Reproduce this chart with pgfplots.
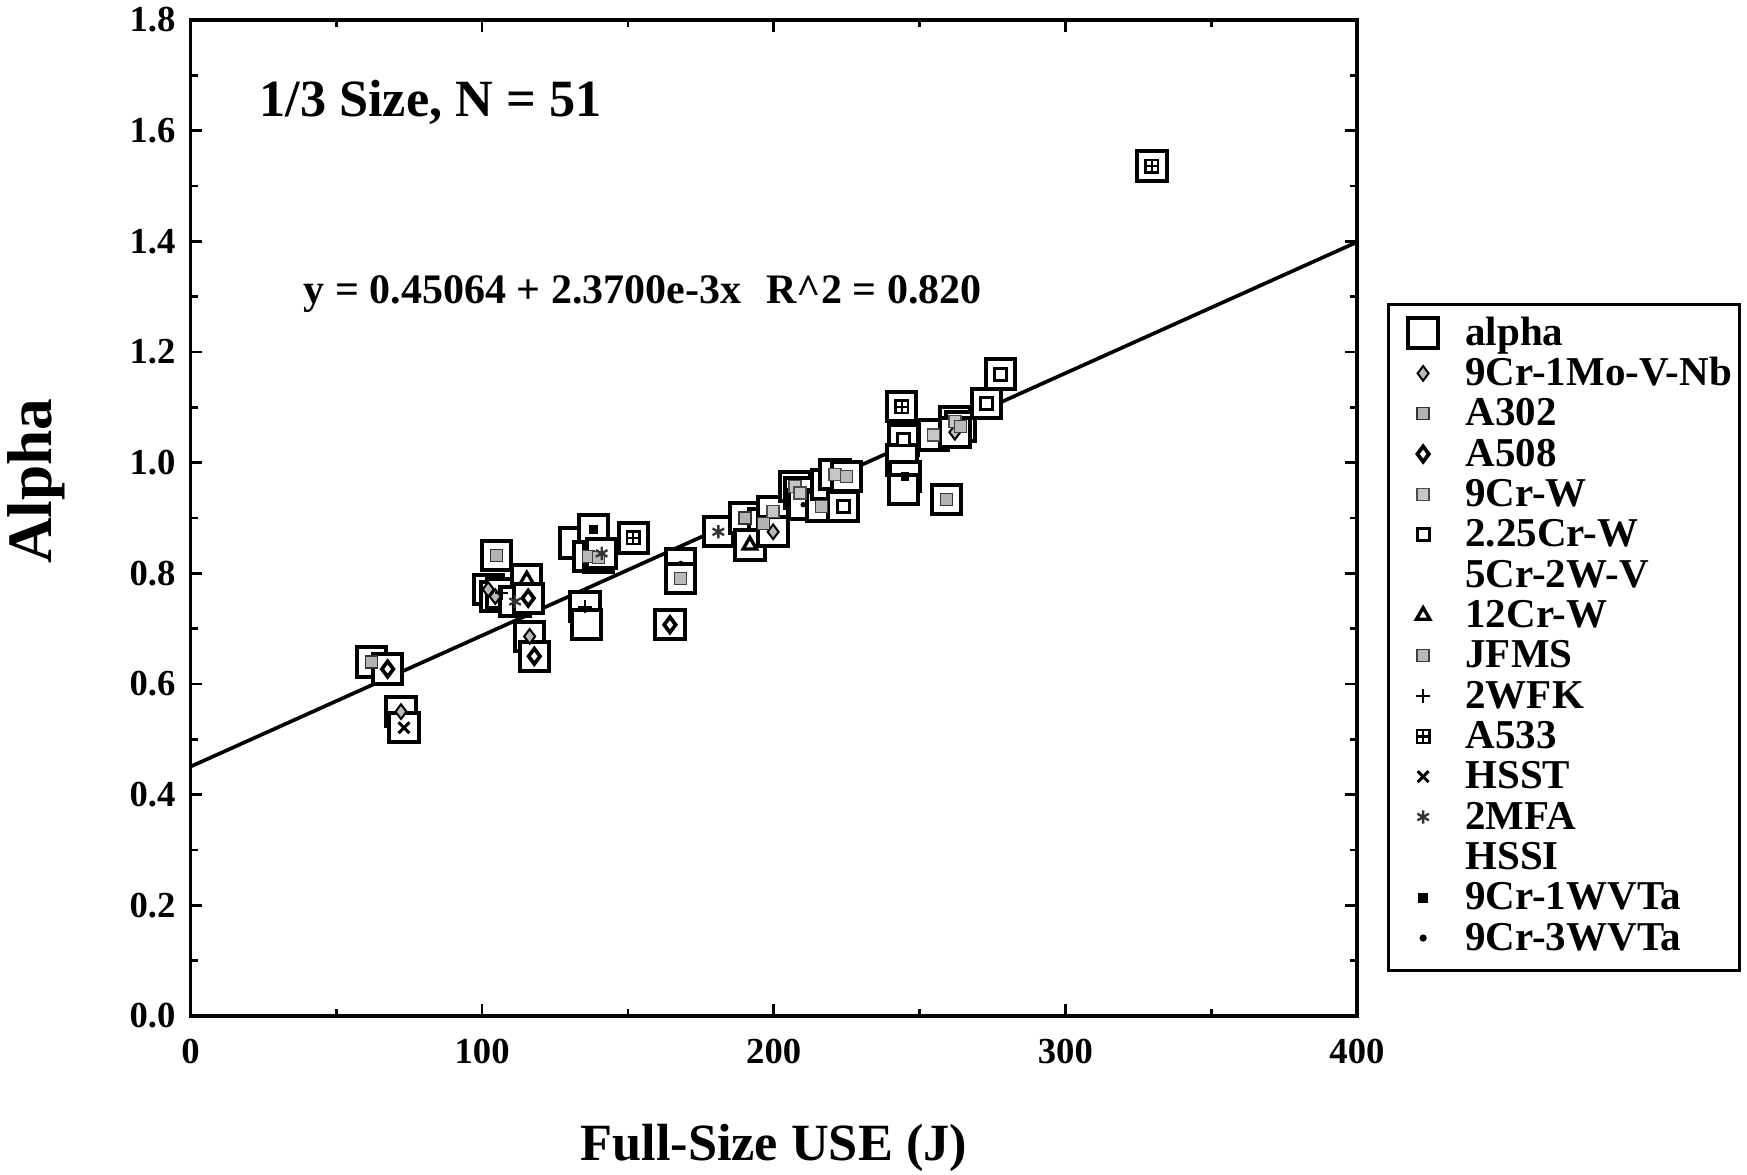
\documentclass[border=0pt]{standalone}
\usepackage{pgfplots}
\pgfplotsset{compat=1.18}
\usepackage{fontspec}
\setmainfont{Liberation Serif}
\pgfdeclareplotmark{boxplus}{%
  \pgfpathrectangle{\pgfpoint{-\pgfplotmarksize}{-\pgfplotmarksize}}{\pgfpoint{2\pgfplotmarksize}{2\pgfplotmarksize}}%
  \pgfpathmoveto{\pgfpoint{-\pgfplotmarksize}{0pt}}\pgfpathlineto{\pgfpoint{\pgfplotmarksize}{0pt}}%
  \pgfpathmoveto{\pgfpoint{0pt}{-\pgfplotmarksize}}\pgfpathlineto{\pgfpoint{0pt}{\pgfplotmarksize}}%
  \pgfusepathqstroke}
\begin{document}
\begin{tikzpicture}
\path[use as bounding box] (-57.15pt,-47.7pt) rectangle (466.95pt,304.8pt);
\begin{axis}[
  scale only axis, width=349.95pt, height=298.8pt,
  at={(0,0)}, anchor=south west,
  xmin=0, xmax=400, ymin=0, ymax=1.8,
  xtick={0,100,200,300,400}, ytick={0,0.2,...,1.8},
  minor x tick num=1, minor y tick num=1,
  tick align=inside,
  major tick length=3.6pt, minor tick length=2.2pt,
  tick style={black, line width=0.8pt},
  axis line style={line width=1.1pt},
  /pgf/number format/assume math mode=true,
  y tick label style={/pgf/number format/fixed, /pgf/number format/fixed zerofill, /pgf/number format/precision=1, xshift=-1pt},
  ticklabel style={font=\fontsize{11}{11}\selectfont\bfseries},
  x tick label style={yshift=-3.5pt},
  xlabel={Full-Size USE (J)},
  ylabel={Alpha},
  xlabel style={font=\fontsize{15.7}{16}\selectfont\bfseries, at={(axis description cs:0.5,0)}, anchor=center, yshift=-39.5pt},
  ylabel style={font=\fontsize{19}{19}\selectfont\bfseries, at={(axis description cs:0,0.537)}, anchor=center, yshift=46.4pt},
  clip=false,
  legend cell align=left,
  legend style={at={(rel axis cs:1.0257,0.716)}, anchor=north west,
    font=\fontsize{12.3}{12.3}\selectfont\bfseries,
    draw=black, line width=0.9pt,
    inner xsep=2pt, inner ysep=3.4pt,
    row sep=0.5pt, column sep=4pt,
    nodes={inner sep=0.3pt, text height=8.5pt, text depth=2.5pt, line width=0.8pt}},
  legend image code/.code={\path[draw=none] (0pt,0.6pt) (16.8pt,0.6pt);
    \draw[mark repeat=2,mark phase=2,#1] plot coordinates {(0pt,0.6pt) (8.4pt,0.6pt) (16.8pt,0.6pt)};},
  nosym/.style={only marks, mark=*, mark size=0pt, mark options={draw=none, fill=none}},
]
% alpha: big open squares at every point
\addplot[only marks, mark=square*, mark size=4.4pt, mark options={fill=white, draw=black, line width=1.2pt}] coordinates {
(62.1,0.640) (67.6,0.627) (72.2,0.550) (73.2,0.521)
(105,0.832) (102.1,0.771) (104.5,0.758) (106.7,0.764) (115.3,0.788) (111.3,0.749) (115.8,0.755)
(116.3,0.686) (117.9,0.650)
(131.8,0.855) (138.1,0.879) (136.5,0.830) (140,0.828) (141,0.836) (135.3,0.740) (135.9,0.707)
(151.8,0.864) (164.4,0.707) (168.1,0.818) (168.1,0.791)
(181,0.875) (190.1,0.900) (196.5,0.890) (191.8,0.851) (199.8,0.912) (199.8,0.875)
(207.3,0.957) (209,0.945) (210.1,0.924) (216.4,0.921) (218,0.960) (221,0.978) (225,0.975) (223.8,0.921)
(243.9,1.101) (244.4,1.041) (244,1.005) (245,0.975) (244.4,0.951)
(254.7,1.050) (259.3,0.933) (262.1,1.074) (264,1.065) (262.1,1.055)
(273,1.107) (277.8,1.160) (329.7,1.536)
};
\addlegendentry{alpha}
% 9Cr-1Mo-V-Nb
\addplot[only marks, mark=diamond*, mark size=2.2pt, mark options={fill=gray!55, draw=black, line width=0.6pt}] coordinates {
(72.2,0.550) (102.1,0.771) (104.5,0.758) (116.3,0.686) (199.8,0.875) (262.1,1.055)
};
\addlegendentry{9Cr-1Mo-V-Nb}
% A302
\addplot[only marks, mark=square*, mark size=1.8pt, mark options={fill=gray!60, draw=gray!40!black, line width=0.4pt}] coordinates {
(62.1,0.640) (105,0.832) (190.1,0.900) (196.5,0.890) (259.3,0.933)
};
\addlegendentry{A302}
% A508
\addplot[only marks, mark=diamond*, mark size=2.3pt, mark options={fill=white, draw=black, line width=1.1pt}] coordinates {
(67.6,0.627) (115.8,0.755) (117.9,0.650) (164.4,0.707)
};
\addlegendentry{A508}
% 9Cr-W
\addplot[only marks, mark=square*, mark size=1.8pt, mark options={fill=gray!45, draw=gray!60!black, line width=0.4pt}] coordinates {
(199.8,0.912) (207.3,0.957) (209,0.945) (221,0.978) (262.1,1.074) (254.7,1.050)
};
\addlegendentry{9Cr-W}
% 2.25Cr-W
\addplot[only marks, mark=square*, mark size=1.8pt, mark options={fill=white, draw=black, line width=0.9pt}] coordinates {
(223.8,0.921) (244.4,1.041) (273,1.107) (277.8,1.160)
};
\addlegendentry{2.25Cr-W}
% 5Cr-2W-V (no symbol)
\addplot[nosym] coordinates {
(135.9,0.707) (244.4,0.951)
};
\addlegendentry{5Cr-2W-V}
% 12Cr-W
\addplot[only marks, mark=triangle, mark size=2.3pt, mark options={draw=black, line width=1pt}] coordinates {
(115.3,0.788) (191.8,0.851)
};
\addlegendentry{12Cr-W}
% JFMS
\addplot[only marks, mark=square*, mark size=1.8pt, mark options={fill=gray!55, draw=gray!50!black, line width=0.4pt}] coordinates {
(136.5,0.830) (140,0.828) (168.1,0.791) (216.4,0.921) (225,0.975) (264,1.065)
};
\addlegendentry{JFMS}
% 2WFK
\addplot[only marks, mark=+, mark size=2pt, mark options={draw=black, line width=0.6pt}] coordinates {
(106.7,0.764) (135.3,0.740)
};
\addlegendentry{2WFK}
% A533
\addplot[only marks, mark=boxplus, mark size=1.9pt, mark options={draw=black, line width=0.7pt}] coordinates {
(151.8,0.864) (243.9,1.101) (329.7,1.536)
};
\addlegendentry{A533}
% HSST
\addplot[only marks, mark=x, mark size=2.3pt, mark options={draw=black, line width=0.9pt}] coordinates {
(73.2,0.521)
};
\addlegendentry{HSST}
% 2MFA
\addplot[only marks, mark=asterisk, mark size=2pt, mark options={draw=gray!40!black, line width=0.7pt}] coordinates {
(111.3,0.749) (141,0.836) (181,0.875)
};
\addlegendentry{2MFA}
% HSSI (no symbol)
\addplot[nosym] coordinates {
(131.8,0.855) (218,0.960) (244,1.005)
};
\addlegendentry{HSSI}
% 9Cr-1WVTa
\addplot[only marks, mark=square*, mark size=1.1pt, mark options={fill=black, draw=black}] coordinates {
(138.1,0.879) (245,0.975)
};
\addlegendentry{9Cr-1WVTa}
% 9Cr-3WVTa
\addplot[only marks, mark=*, mark size=0.6pt, mark options={fill=black, draw=black}] coordinates {
(168.1,0.818) (210.1,0.924)
};
\addlegendentry{9Cr-3WVTa}
% regression line
\addplot[black, line width=1.1pt, forget plot] coordinates {(0,0.45064) (400,1.39864)};
\node[font=\fontsize{15.7}{16}\selectfont\bfseries, anchor=center] at (axis cs:82.3,1.651) {1/3 Size, N = 51};
\node[font=\fontsize{12.6}{13}\selectfont\bfseries, anchor=center] at (axis cs:155.1,1.305) {y = 0.45064 + 2.3700e-3x\hspace{0.6em}R\textasciicircum 2 = 0.820};
\end{axis}
\end{tikzpicture}
\end{document}
